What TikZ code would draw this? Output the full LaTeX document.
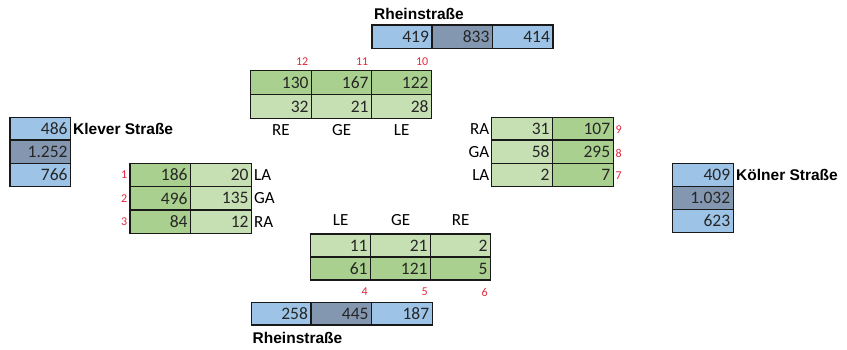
\documentclass[tikz,border=0pt]{standalone}
\usepackage{fontspec}
\newfontfamily\calib{Carlito}
\newfontfamily\arialb{Liberation Sans}[BoldFont={Liberation Sans Bold}]
\definecolor{blueL}{HTML}{9DC3E6}
\definecolor{blueD}{HTML}{8497B0}
\definecolor{greenD}{HTML}{A9D08E}
\definecolor{greenL}{HTML}{C6E0B4}
\definecolor{redN}{HTML}{E0283C}
\definecolor{numC}{HTML}{262626}
\tikzset{
  cellst/.style={draw=black!90, line width=1.2pt, inner sep=0pt},
  numst/.style={anchor=east, inner sep=0pt, text=numC, font=\calib\fontsize{17.5}{20}\selectfont},
  redst/.style={inner sep=0pt, text=redN, font=\calib\fontsize{12}{14}\selectfont},
  dirst/.style={inner sep=0pt, text=black, font=\calib\fontsize{17}{20}\selectfont},
  streetst/.style={inner sep=0pt, anchor=west, text=black, font=\arialb\bfseries\fontsize{15.5}{18}\selectfont}
}
\newcommand\cell[7]{%
  \pgfmathsetmacro\cw{#4-#2}\pgfmathsetmacro\ch{#5-#3}%
  \pgfmathsetmacro\cx{(#2+#4)/2}\pgfmathsetmacro\cy{(#3+#5)/2}%
  \node[cellst, fill=#6, minimum width=\cw pt, minimum height=\ch pt] (#1) at (\cx,\cy) {};
  \node[numst] (#1t) at ([xshift=-3.5pt]#1.east) {#7};
}
\begin{document}
\begin{tikzpicture}[x=1pt,y=-1pt]
\useasboundingbox (0,0) rectangle (847,349);
% top blue
\cell{tb1}{372}{25}{432}{48.5}{blueL}{419}
\cell{tb2}{432}{25}{492.5}{48.5}{blueD}{833}
\cell{tb3}{492.5}{25}{553}{48.5}{blueL}{414}
\node[streetst] (tbl) at (374,14) {Rheinstraße};
% left blue
\cell{lb1}{10}{117.3}{70.7}{140}{blueL}{486}
\cell{lb2}{10}{140}{70.7}{163.3}{blueD}{1.252}
\cell{lb3}{10}{163.3}{70.7}{186.7}{blueL}{766}
\node[streetst] (lbl) at (73,128.5) {Klever Straße};
% right blue
\cell{rb1}{672.3}{163.3}{733.3}{186.7}{blueL}{409}
\cell{rb2}{672.3}{186.7}{733.3}{209.3}{blueD}{1.032}
\cell{rb3}{672.3}{209.3}{733.3}{232.7}{blueL}{623}
\node[streetst] (rbl) at (736,174.5) {Kölner Straße};
% bottom blue
\cell{bb1}{251.7}{302.7}{311}{325}{blueL}{258}
\cell{bb2}{311}{302.7}{371.7}{325}{blueD}{445}
\cell{bb3}{371.7}{302.7}{432.3}{325}{blueL}{187}
\node[streetst] (bbl) at (252.5,337.5) {Rheinstraße};
% top green
\cell{tg11}{250.7}{70.7}{311.7}{94.5}{greenD}{130}
\cell{tg12}{311.7}{70.7}{371.7}{94.5}{greenD}{167}
\cell{tg13}{371.7}{70.7}{431.7}{94.5}{greenD}{122}
\cell{tg21}{250.7}{94.5}{311.7}{118.3}{greenL}{32}
\cell{tg22}{311.7}{94.5}{371.7}{118.3}{greenL}{21}
\cell{tg23}{371.7}{94.5}{431.7}{118.3}{greenL}{28}
\node[redst, anchor=east] (r12) at (308.5,61.5) {12};
\node[redst, anchor=east] (r11) at (368.5,61.5) {11};
\node[redst, anchor=east] (r10) at (428.5,61.5) {10};
\node[dirst] (tRE) at (281,130) {RE};
\node[dirst] (tGE) at (341.7,130) {GE};
\node[dirst] (tLE) at (401.7,130) {LE};
% left green
\cell{lg11}{130}{163.3}{190.7}{186.7}{greenD}{186}
\cell{lg21}{130}{186.7}{190.7}{210}{greenD}{496}
\cell{lg31}{130}{210}{190.7}{233.3}{greenD}{84}
\cell{lg12}{190.7}{163.3}{251.7}{186.7}{greenL}{20}
\cell{lg22}{190.7}{186.7}{251.7}{210}{greenL}{135}
\cell{lg32}{190.7}{210}{251.7}{233.3}{greenL}{12}
\node[redst, anchor=east] (r1) at (127.5,175) {1};
\node[redst, anchor=east] (r2) at (127.5,198.3) {2};
\node[redst, anchor=east] (r3) at (127.5,221.7) {3};
\node[dirst, anchor=west] (lLA) at (254,175) {LA};
\node[dirst, anchor=west] (lGA) at (254,198.3) {GA};
\node[dirst, anchor=west] (lRA) at (254,221.7) {RA};
% right green
\cell{rg11}{491.7}{117.3}{552.7}{140}{greenL}{31}
\cell{rg21}{491.7}{140}{552.7}{163.3}{greenL}{58}
\cell{rg31}{491.7}{163.3}{552.7}{186.7}{greenL}{2}
\cell{rg12}{552.7}{117.3}{613.3}{140}{greenD}{107}
\cell{rg22}{552.7}{140}{613.3}{163.3}{greenD}{295}
\cell{rg32}{552.7}{163.3}{613.3}{186.7}{greenD}{7}
\node[dirst, anchor=east] (rRA) at (489.5,128.7) {RA};
\node[dirst, anchor=east] (rGA) at (489.5,151.7) {GA};
\node[dirst, anchor=east] (rLA) at (489.5,175) {LA};
\node[redst, anchor=west] (r9) at (615.5,130) {9};
\node[redst, anchor=west] (r8) at (615.5,153) {8};
\node[redst, anchor=west] (r7) at (615.5,176) {7};
% bottom green
\cell{bg11}{310.7}{234}{370.7}{257}{greenL}{11}
\cell{bg12}{370.7}{234}{430.7}{257}{greenL}{21}
\cell{bg13}{430.7}{234}{490.7}{257}{greenL}{2}
\cell{bg21}{310.7}{257}{370.7}{280}{greenD}{61}
\cell{bg22}{370.7}{257}{430.7}{280}{greenD}{121}
\cell{bg23}{430.7}{257}{490.7}{280}{greenD}{5}
\node[dirst] (bLE) at (340.7,220) {LE};
\node[dirst] (bGE) at (400.7,220) {GE};
\node[dirst] (bRE) at (460.7,220) {RE};
\node[redst, anchor=east] (r4) at (368,292) {4};
\node[redst, anchor=east] (r5) at (428,292) {5};
\node[redst, anchor=east] (r6) at (488,292) {6};
\end{tikzpicture}
\end{document}
